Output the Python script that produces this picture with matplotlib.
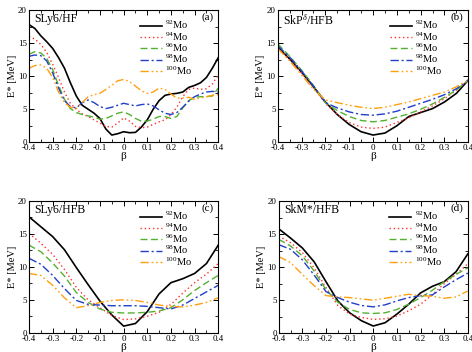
import numpy as np
import matplotlib
matplotlib.use("Agg")
import matplotlib.pyplot as plt
from matplotlib.ticker import MultipleLocator

plt.rcParams['font.family'] = ['Liberation Serif', 'DejaVu Serif']
plt.rcParams['mathtext.fontset'] = 'custom'
plt.rcParams['mathtext.rm'] = 'Liberation Serif'
plt.rcParams['mathtext.it'] = 'Liberation Serif:italic'
plt.rcParams['axes.unicode_minus'] = False

# ---------------- data ----------------
beta_fine = [-0.4 + 0.025 * i for i in range(33)]
beta = [-0.4 + 0.05 * i for i in range(17)]

isotopes = ["92", "94", "96", "98", "100"]

# panel (a) SLy6/HF  (0.025 step)
a_92 = [17.8, 17.2, 16.1, 15.2, 14.2, 12.8, 11.2, 9.0, 7.0, 5.6, 5.0, 4.4, 3.6, 2.0, 1.1, 1.3,
        1.6, 1.45, 1.5, 2.3, 3.4, 5.0, 6.3, 7.1, 7.3, 7.4, 7.6, 8.3, 8.6, 9.0, 9.8, 11.2, 12.8]
a_94 = [16.0, 15.6, 14.8, 13.6, 11.8, 9.8, 7.6, 5.9, 5.0, 4.3, 3.9, 3.4, 2.9, 2.4, 2.3, 2.9,
        3.7, 3.2, 2.4, 2.2, 2.3, 2.7, 3.1, 3.4, 4.2, 5.3, 6.9, 8.0, 8.2, 8.0, 8.1, 8.8, 10.2]
a_96 = [13.3, 13.7, 13.5, 12.7, 11.0, 8.6, 6.5, 5.1, 4.5, 4.2, 4.0, 3.8, 3.5, 3.6, 4.0, 4.4,
        4.6, 4.2, 3.6, 3.2, 3.2, 3.5, 3.9, 3.9, 3.6, 3.9, 5.2, 6.3, 6.8, 6.9, 6.9, 7.0, 8.2]
a_98 = [13.0, 13.2, 13.1, 12.3, 10.5, 8.2, 6.3, 5.4, 5.2, 6.0, 6.4, 6.0, 5.4, 5.1, 5.3, 5.6,
        5.9, 5.7, 5.5, 5.7, 5.8, 5.5, 4.9, 4.4, 4.2, 4.5, 5.3, 6.2, 6.9, 7.3, 7.6, 7.7, 7.6]
a_100 = [11.2, 11.6, 11.7, 11.2, 9.8, 7.6, 6.0, 5.3, 5.1, 6.0, 6.9, 7.2, 7.4, 8.0, 8.6, 9.3,
         9.5, 9.2, 8.5, 7.8, 7.4, 7.6, 8.2, 8.0, 7.3, 6.7, 6.7, 6.8, 6.5, 6.7, 6.9, 7.1, 7.2]

# panel (b) SkP^delta/HFB (0.05 step)
b_92 = [14.4, 12.6, 10.6, 8.4, 6.1, 4.2, 2.7, 1.6, 1.1, 1.4, 2.5, 3.9, 4.5, 5.1, 6.1, 7.4, 9.4]
b_94 = [14.3, 12.5, 10.5, 8.3, 5.9, 4.2, 3.0, 2.3, 2.1, 2.3, 3.0, 3.7, 4.6, 5.5, 6.6, 7.9, 9.4]
b_96 = [14.9, 13.0, 10.9, 8.6, 6.0, 4.8, 3.9, 3.3, 3.1, 3.3, 3.8, 4.3, 5.0, 5.8, 6.8, 7.9, 9.4]
b_98 = [14.6, 12.9, 10.8, 8.5, 6.0, 5.2, 4.6, 4.2, 4.1, 4.3, 4.7, 5.3, 5.9, 6.5, 7.2, 8.1, 9.4]
b_100 = [14.2, 12.3, 10.2, 8.0, 6.4, 6.0, 5.6, 5.3, 5.1, 5.3, 5.7, 6.1, 6.6, 7.1, 7.6, 8.4, 9.4]

# panel (c) SLy6/HFB
c_92 = [17.6, 16.1, 14.6, 12.6, 9.9, 7.3, 4.8, 2.7, 1.0, 1.4, 3.2, 5.9, 7.6, 8.2, 9.0, 10.5, 13.3]
c_94 = [15.1, 13.6, 11.9, 9.6, 6.9, 5.0, 3.8, 2.6, 2.0, 2.1, 2.5, 3.1, 4.3, 6.0, 7.6, 8.9, 10.5]
c_96 = [13.3, 12.3, 10.6, 8.6, 6.1, 4.6, 3.6, 3.1, 3.0, 3.0, 3.1, 3.3, 3.8, 5.0, 6.4, 7.6, 8.7]
c_98 = [11.3, 10.4, 8.7, 6.7, 4.9, 4.3, 4.2, 4.1, 4.1, 4.1, 4.0, 3.8, 3.6, 4.2, 5.2, 6.2, 7.2]
c_100 = [9.0, 8.7, 7.2, 5.3, 3.8, 4.1, 4.6, 4.9, 5.0, 4.9, 4.6, 4.2, 4.0, 3.9, 4.2, 4.6, 5.3]

# panel (d) SkM*/HFB
d_92 = [15.8, 14.4, 12.9, 10.8, 7.8, 4.9, 3.1, 1.9, 1.1, 1.6, 2.9, 4.4, 6.1, 7.1, 7.8, 9.3, 12.0]
d_94 = [14.7, 13.7, 12.2, 9.9, 6.9, 4.2, 2.9, 2.4, 2.1, 2.2, 2.6, 3.4, 4.4, 5.8, 7.5, 8.9, 10.5]
d_96 = [14.2, 13.2, 11.7, 9.4, 6.6, 4.7, 3.6, 3.1, 3.0, 3.1, 3.6, 4.4, 5.4, 6.5, 7.8, 8.9, 9.9]
d_98 = [13.4, 12.7, 11.1, 8.8, 6.3, 5.4, 4.7, 4.2, 4.0, 4.3, 4.9, 5.4, 5.7, 5.8, 7.0, 8.1, 9.1]
d_100 = [11.6, 10.7, 8.9, 7.2, 5.7, 5.5, 5.4, 5.2, 5.0, 5.3, 5.6, 5.9, 5.7, 5.6, 5.3, 5.5, 6.4]

titles = ["SLy6/HF", r"SkP$^{\delta}$/HFB", "SLy6/HFB", "SkM*/HFB"]
tags = ["(a)", "(b)", "(c)", "(d)"]

panels = [
    (beta_fine, [a_92, a_94, a_96, a_98, a_100]),
    (beta, [b_92, b_94, b_96, b_98, b_100]),
    (beta, [c_92, c_94, c_96, c_98, c_100]),
    (beta, [d_92, d_94, d_96, d_98, d_100]),
]

# ---------------- style ----------------
colors = ["#000000", "#ff3030", "#55b030", "#2040c8", "#ffa010"]
styles = ["-", (0, (1, 2)), (0, (5, 2.5)), (0, (6, 2, 1.5, 2)), (0, (6, 2, 1.2, 2, 1.2, 2))]
widths = [1.2, 1.0, 1.0, 1.0, 1.0]

fig = plt.figure(figsize=(4.72, 3.52), dpi=100)
rects = [
    [0.0614, 0.5957, 0.4010, 0.3759],
    [0.5884, 0.5957, 0.4038, 0.3759],
    [0.0614, 0.0548, 0.4010, 0.3741],
    [0.5905, 0.0531, 0.4006, 0.3759],
]

for k, (rect, (xb, series)) in enumerate(zip(rects, panels)):
    ax = fig.add_axes(rect)
    for s, iso, col, ls, lw in zip(series, isotopes, colors, styles, widths):
        ax.plot(xb, s, color=col, linestyle=ls, linewidth=lw,
                label=r"$^{" + iso + r"}$Mo")
    ax.set_xlim(-0.4, 0.4)
    ax.set_ylim(0, 20)
    ax.xaxis.set_minor_locator(MultipleLocator(0.05))
    ax.yaxis.set_minor_locator(MultipleLocator(2.5))
    ax.set_xticks([-0.4, -0.3, -0.2, -0.1, 0, 0.1, 0.2, 0.3, 0.4])
    ax.set_xticklabels(["-0.4", "-0.3", "-0.2", "-0.1", "0", "0.1", "0.2", "0.3", "0.4"])
    ax.set_yticks([0, 5, 10, 15, 20])
    ax.set_yticklabels(["0", "5", "10", "15", "20"])
    ax.tick_params(which='both', direction='in', top=True, right=True,
                   labelsize=6.5, pad=1.5)
    ax.tick_params(which='major', length=3.5, width=0.7)
    ax.tick_params(which='minor', length=2, width=0.6)
    for sp in ax.spines.values():
        sp.set_linewidth(0.8)
    ax.set_xlabel("β", fontsize=8, labelpad=0)
    ax.set_ylabel("E* [MeV]", fontsize=7.5, labelpad=1)
    ax.text(0.03, 0.975, titles[k], transform=ax.transAxes, fontsize=8.5,
            va='top', ha='left')
    ax.text(0.975, 0.985, tags[k], transform=ax.transAxes, fontsize=8,
            va='top', ha='right')
    ax.legend(loc='upper right', bbox_to_anchor=(0.90, 0.985), frameon=False,
              fontsize=7.5, handlelength=2.1, handletextpad=0.35,
              labelspacing=-0.1, borderpad=0.15)

fig.savefig("out.png", dpi=100)
